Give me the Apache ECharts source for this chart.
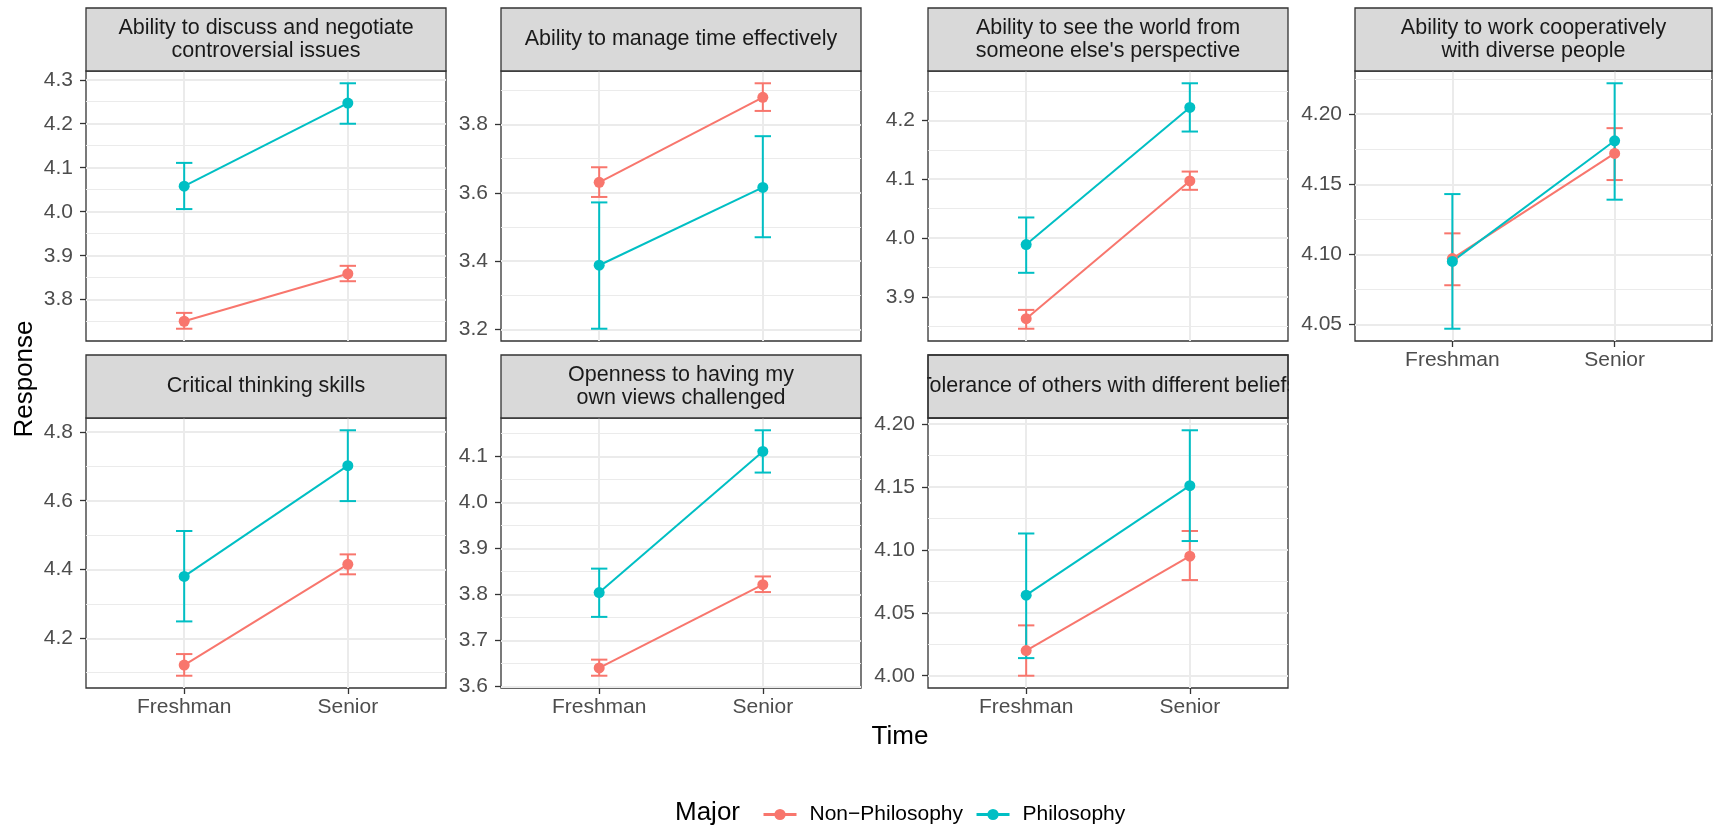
<!DOCTYPE html>
<html>
<head>
<meta charset="utf-8">
<script src="https://cdn.jsdelivr.net/npm/echarts@6/dist/echarts.min.js"></script>
<style>
html, body { margin: 0; background: #fff; }
#box { width: 1713px; height: 828px; }
</style>
</head>
<body>
<div id="box"></div>
<script>
// values
const times = ['Freshman', 'Senior'];
const majors = ['Non−Philosophy', 'Philosophy'];
const skills = [
    'Ability to discuss and negotiate\ncontroversial issues',
    'Ability to manage time effectively',
    'Ability to see the world from\nsomeone else\'s perspective',
    'Ability to work cooperatively\nwith diverse people',
    'Critical thinking skills',
    'Openness to having my\nown views challenged',
    'Tolerance of others with different beliefs'
];

const nonMean = [[3.751, 3.859], [3.631, 3.880], [3.863, 4.097], [4.097, 4.172], [4.122, 4.415], [3.640, 3.821], [4.020, 4.095]];
const nonLo   = [[3.734, 3.842], [3.588, 3.840], [3.846, 4.082], [4.078, 4.153], [4.091, 4.386], [3.623, 3.805], [4.000, 4.076]];
const nonHi   = [[3.770, 3.877], [3.675, 3.921], [3.878, 4.113], [4.115, 4.190], [4.154, 4.444], [3.658, 3.839], [4.040, 4.115]];

const philMean = [[4.058, 4.247], [3.388, 3.616], [3.989, 4.222], [4.095, 4.181], [4.380, 4.702], [3.804, 4.111], [4.064, 4.151]];
const philLo   = [[4.006, 4.200], [3.202, 3.470], [3.941, 4.181], [4.047, 4.139], [4.249, 4.599], [3.751, 4.065], [4.014, 4.107]];
const philHi   = [[4.111, 4.292], [3.572, 3.766], [4.035, 4.263], [4.143, 4.222], [4.512, 4.805], [3.856, 4.157], [4.113, 4.195]];

const yTicks = [
    ['3.8', '3.9', '4.0', '4.1', '4.2', '4.3'],
    ['3.2', '3.4', '3.6', '3.8'],
    ['3.9', '4.0', '4.1', '4.2'],
    ['4.05', '4.10', '4.15', '4.20'],
    ['4.2', '4.4', '4.6', '4.8'],
    ['3.6', '3.7', '3.8', '3.9', '4.0', '4.1'],
    ['4.00', '4.05', '4.10', '4.15', '4.20']
];

const colors = ['#F8766D', '#00BFC4'];
const font = 'Liberation Sans, Arial, sans-serif';

// layout of the facets
const colLeft = [86, 501, 928, 1355];
const colWidth = [360, 360, 360, 357];
const rows = [{strip: 8, top: 71, h: 270}, {strip: 355, top: 418, h: 270}];

const chart = echarts.init(document.getElementById('box'));

const grids = [], xAxes = [], yAxes = [], series = [], graphics = [];

function errorBar(color) {
    return function (params, api) {
        const x = api.value(0), lo = api.value(1), hi = api.value(2);
        const t = api.coord([x, hi]), b = api.coord([x, lo]);
        const tl = api.coord([x - 0.05, hi]), tr = api.coord([x + 0.05, hi]);
        const bl = api.coord([x - 0.05, lo]), br = api.coord([x + 0.05, lo]);
        const st = {stroke: color, lineWidth: 2};
        return {
            type: 'group',
            children: [
                {type: 'line', shape: {x1: t[0], y1: t[1], x2: b[0], y2: b[1]}, style: st},
                {type: 'line', shape: {x1: tl[0], y1: tl[1], x2: tr[0], y2: tr[1]}, style: st},
                {type: 'line', shape: {x1: bl[0], y1: bl[1], x2: br[0], y2: br[1]}, style: st}
            ]
        };
    };
}

skills.forEach((name, i) => {
    const row = rows[i < 4 ? 0 : 1];
    const col = i % 4;
    const left = colLeft[col], w = colWidth[col];
    const showX = i >= 3;

    // ggplot style 5% expansion of the y range
    const all = nonLo[i].concat(nonHi[i], philLo[i], philHi[i]);
    const lo = Math.min(...all), hi = Math.max(...all);
    const pad = (hi - lo) * 0.05;
    const ymin = lo - pad, ymax = hi + pad;

    const major = yTicks[i].map(Number);
    const step = major[1] - major[0];
    const minor = [major[0] - step / 2].concat(major.map(v => v + step / 2))
        .filter(v => v > ymin && v < ymax);

    grids.push({
        left: left, top: row.top, width: w, height: row.h,
        show: true, backgroundColor: '#fff', borderColor: '#333333', borderWidth: 1.3
    });

    xAxes.push({
        gridIndex: i, type: 'value', min: 0.4, max: 2.6,
        axisLine: {show: false},
        axisTick: {show: showX, customValues: [1, 2], length: 6, lineStyle: {color: '#333333', width: 1.3}},
        axisLabel: {
            show: showX, customValues: [1, 2], margin: 9,
            formatter: v => times[Math.round(v) - 1],
            color: '#4D4D4D', fontSize: 21, fontFamily: font
        },
        splitLine: {show: true, lineStyle: {color: '#EBEBEB', width: 2}}
    });

    yAxes.push({
        gridIndex: i, type: 'value', position: 'left', min: ymin, max: ymax,
        axisLine: {show: false},
        axisTick: {show: true, customValues: major, length: 6, lineStyle: {color: '#333333', width: 1.3}},
        axisLabel: {
            customValues: major, margin: 13,
            formatter: v => yTicks[i].find(t => Math.abs(+t - v) < 1e-9) || '',
            color: '#4D4D4D', fontSize: 21, fontFamily: font
        },
        splitLine: {show: true, lineStyle: {color: '#EBEBEB', width: 2}}
    });
    yAxes.push({
        gridIndex: i, type: 'value', position: 'left', min: ymin, max: ymax,
        axisLine: {show: false},
        axisTick: {show: false, customValues: minor},
        axisLabel: {show: false},
        splitLine: {show: true, lineStyle: {color: '#EBEBEB', width: 1}}
    });

    const groups = [
        {mean: nonMean[i], lo: nonLo[i], hi: nonHi[i]},
        {mean: philMean[i], lo: philLo[i], hi: philHi[i]}
    ];
    groups.forEach((g, m) => {
        series.push({
            type: 'custom', name: 'err' + m, xAxisIndex: i, yAxisIndex: 2 * i,
            renderItem: errorBar(colors[m]), silent: true, z: 2,
            encode: {x: 0, y: [1, 2]},
            data: [[1, g.lo[0], g.hi[0]], [2, g.lo[1], g.hi[1]]]
        });
    });
    groups.forEach((g, m) => {
        series.push({
            type: 'line', name: majors[m], xAxisIndex: i, yAxisIndex: 2 * i,
            symbol: 'circle', symbolSize: 11, z: 3,
            lineStyle: {color: colors[m], width: 2},
            itemStyle: {color: colors[m]},
            data: [[1, g.mean[0]], [2, g.mean[1]]]
        });
    });

    // facet strip
    graphics.push({
        type: 'rect', z: 10,
        shape: {x: left, y: row.strip, width: w, height: row.top - row.strip},
        style: {fill: '#D9D9D9', stroke: '#333333', lineWidth: 1.3}
    });
    graphics.push({
        type: 'text', z: 11,
        x: left + w / 2, y: (row.strip + row.top) / 2,
        style: {
            text: name, fill: '#1A1A1A', fontSize: 21.5, fontFamily: font, lineHeight: 23,
            align: 'center', verticalAlign: 'middle', textAlign: 'center', textVerticalAlign: 'middle'
        }
    });
});

// the last strip label is clipped by the strip in the original
graphics.push({type: 'rect', z: 12, shape: {x: 866, y: 352, width: 61, height: 58}, style: {fill: '#fff'}});
graphics.push({type: 'rect', z: 12, shape: {x: 1289, y: 352, width: 60, height: 58}, style: {fill: '#fff'}});
graphics.push({type: 'rect', z: 13, shape: {x: 928, y: 355, width: 360, height: 63},
    style: {fill: 'none', stroke: '#333333', lineWidth: 1.3}});

graphics.push({
    type: 'text', x: 25, y: 379, rotation: Math.PI / 2,
    style: {text: 'Response', fill: '#000', fontSize: 26, fontFamily: font,
        align: 'center', verticalAlign: 'middle', textAlign: 'center', textVerticalAlign: 'middle'}
});
graphics.push({
    type: 'text', x: 900, y: 737,
    style: {text: 'Time', fill: '#000', fontSize: 26, fontFamily: font,
        align: 'center', verticalAlign: 'middle', textAlign: 'center', textVerticalAlign: 'middle'}
});
graphics.push({
    type: 'text', x: 675, y: 813,
    style: {text: 'Major', fill: '#000', fontSize: 26, fontFamily: font,
        align: 'left', verticalAlign: 'middle', textAlign: 'left', textVerticalAlign: 'middle'}
});

chart.setOption({
    animation: false,
    grid: grids,
    xAxis: xAxes,
    yAxis: yAxes,
    series: series,
    legend: {
        data: majors, left: 757, top: 799,
        itemWidth: 33, itemHeight: 14, itemGap: 12,
        lineStyle: {width: 3},
        textStyle: {fontSize: 21, fontFamily: font, color: '#000', padding: [0, 0, 0, 8]}
    },
    graphic: graphics
});
</script>
</body>
</html>
